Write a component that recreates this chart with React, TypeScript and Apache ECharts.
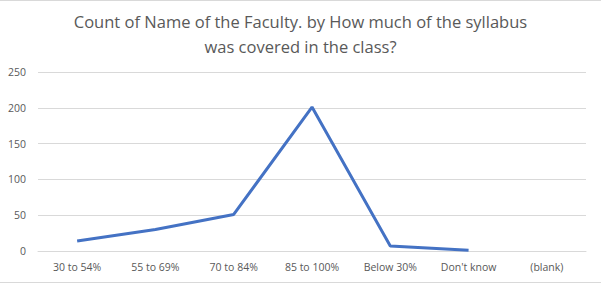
import React, { useEffect, useRef } from "react";
import * as echarts from "echarts";

const categories = ["30 to 54%", "55 to 69%", "70 to 84%", "85 to 100%", "Below 30%", "Don't know", "(blank)"];
const counts: (number | null)[] = [14, 30, 51, 201, 7, 1, null];
const titleLines = ["Count of Name of the Faculty. by How much of the syllabus", "was covered in the class?"];

export default function App() {
  const ref = useRef<HTMLDivElement>(null);
  useEffect(() => {
    document.body.style.margin = "0";
    const chart = echarts.init(ref.current!, null, { renderer: "svg" });
    chart.setOption({
      animation: false,
      backgroundColor: "#ffffff",
      title: {
        text: titleLines.join("\n"),
        left: "center",
        top: 4,
        textStyle: {
          fontFamily: "Open Sans, Calibri, sans-serif",
          fontSize: 16.5,
          fontWeight: "normal",
          color: "#595959",
          lineHeight: 25,
        },
      },
      grid: { left: 38, right: 15, top: 72, bottom: 33 },
      xAxis: {
        type: "category",
        data: categories,
        axisLine: { lineStyle: { color: "#d9d9d9" } },
        axisTick: { show: false },
        axisLabel: { color: "#595959", fontSize: 10.5, fontFamily: "Open Sans, Calibri, sans-serif", margin: 10, interval: 0 },
      },
      yAxis: {
        type: "value",
        min: 0,
        max: 250,
        interval: 50,
        axisLine: { show: false },
        axisTick: { show: false },
        splitLine: { lineStyle: { color: "#d9d9d9" } },
        axisLabel: { color: "#595959", fontSize: 10.5, fontFamily: "Open Sans, Calibri, sans-serif", margin: 12 },
      },
      series: [
        {
          type: "line",
          data: counts,
          symbol: "none",
          lineStyle: { color: "#4472C4", width: 3 },
          connectNulls: false,
        },
      ],
      graphic: [
        { type: "line", shape: { x1: 0, y1: 0.5, x2: 601, y2: 0.5 }, style: { stroke: "#d9d9d9", lineWidth: 1 } },
        { type: "line", shape: { x1: 0, y1: 282.5, x2: 601, y2: 282.5 }, style: { stroke: "#d9d9d9", lineWidth: 1 } },
      ],
    });
    return () => chart.dispose();
  }, []);
  return <div ref={ref} style={{ width: 601, height: 284 }} />;
}
